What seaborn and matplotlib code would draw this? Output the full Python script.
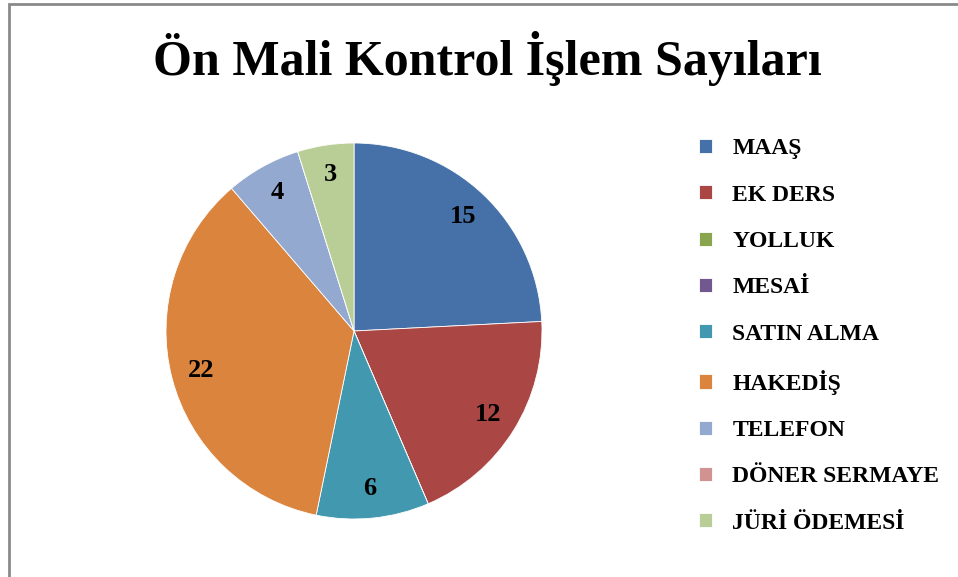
import matplotlib
matplotlib.use("Agg")
import matplotlib.pyplot as plt
import seaborn as sns
from matplotlib.patches import Rectangle

# Slice categories and counts (legend order)
categories = ["MAAŞ", "EK DERS", "YOLLUK", "MESAİ", "SATIN ALMA",
              "HAKEDİŞ", "TELEFON", "DÖNER SERMAYE", "JÜRİ ÖDEMESİ"]
counts = [15, 12, 0, 0, 6, 22, 4, 0, 3]
colors = ["#4571A8", "#AA4644", "#89A54E", "#71588F", "#4298AF",
          "#DB843D", "#93A9CF", "#D19392", "#B9CD96"]

sns.set_theme(style="white")
plt.rcParams["font.family"] = ["Liberation Serif", "DejaVu Serif"]
plt.rcParams["text.color"] = "black"

fig = plt.figure(figsize=(9.58, 5.77), dpi=100)

# grey chart frame
fig.patches.append(Rectangle((9 / 958, -0.01), 1.1, 1 - 4 / 577 + 0.01,
                             transform=fig.transFigure, fill=False,
                             edgecolor="#8a8a8a", linewidth=2))

fig.text(487 / 958, 1 - 58 / 577, "Ön Mali Kontrol İşlem Sayıları",
         ha="center", va="center", fontsize=36, fontweight="bold",
         color="black")

ax = fig.add_axes([166 / 958, (246 - 188) / 577, 376 / 958, 376 / 577])


def show_value(pct):
    val = round(pct * sum(counts) / 100)
    return str(val) if val > 0 else ""


wedges, _, autotexts = ax.pie(
    counts, colors=colors, startangle=90, counterclock=False,
    autopct=show_value, pctdistance=0.84,
    wedgeprops=dict(edgecolor="white", linewidth=0.6),
    textprops=dict(fontsize=19, fontweight="bold", color="black"))
ax.set_xlim(-1, 1)
ax.set_ylim(-1, 1)
ax.set_aspect("equal")

leg = fig.legend(wedges, categories, loc="upper left",
                 bbox_to_anchor=(690 / 958, 1 - 129 / 577),
                 frameon=False, prop=dict(size=17, weight="bold"),
                 handlelength=0.55, handleheight=0.55, handletextpad=0.85,
                 labelspacing=1.07, borderaxespad=0)
for t in leg.get_texts():
    t.set_color("black")

fig.savefig("out.png", dpi=100)
